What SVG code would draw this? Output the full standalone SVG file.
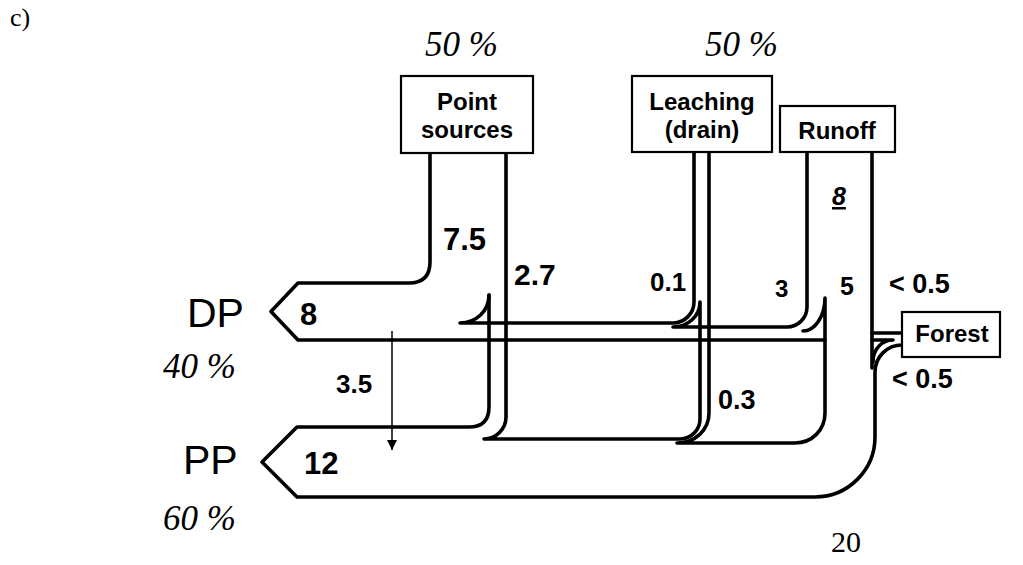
<svg xmlns="http://www.w3.org/2000/svg" width="1023" height="565" viewBox="0 0 1023 565">
<style>
.flow{fill:none;stroke:#000;stroke-width:3.6;stroke-linecap:round;stroke-linejoin:round}
.thin{fill:none;stroke:#000;stroke-width:1.5}
.box{fill:#fff;stroke:#000;stroke-width:2.2}
.bl{font-family:"Liberation Sans",Arial,sans-serif;font-weight:bold;font-size:24px;text-anchor:middle;fill:#000}
.num{font-family:"Liberation Sans",Arial,sans-serif;font-weight:bold;fill:#000}
.big{font-family:"Liberation Sans",Arial,sans-serif;font-size:41px;fill:#000}
.pct{font-family:"Liberation Serif","Times New Roman",serif;font-style:italic;font-size:35px;fill:#000}
.ser{font-family:"Liberation Serif","Times New Roman",serif;fill:#000}
</style>
<defs>
<marker id="ah" viewBox="0 0 10 10" refX="10" refY="5" markerWidth="10" markerHeight="10" markerUnits="userSpaceOnUse" orient="auto">
<path d="M0,0 L10,5 L0,10 Z" fill="#000"/>
</marker>
</defs>
<rect width="1023" height="565" fill="#fff"/>
<text class="ser" x="10" y="26" font-size="26">c)</text>
<text class="pct" x="425" y="56">50 %</text>
<text class="pct" x="705" y="56">50 %</text>
<text class="ser" x="831" y="552" font-size="30">20</text>

<g id="connectors">
<path class="flow" d="M430,153 V262 Q430,283 409,283 H298 L271,311.5 L298,340 H825"/>
<path class="flow" d="M489,295 V407 Q489,427 469,427 H297 L262,462 L297,497 H815 C848,497 875,470 875,437 V372 C875,357 887,345 902,345"/>
<path class="flow" d="M489,295 C489,311 476,323 460,323 H673 C685,323 694,313 694,302 V152"/>
<path class="flow" d="M506,153 V417 C506,429 496,439 484,439 H680 C691,439 700,430 700,419 V302 C700,316 688,327 673,327 H787 C798,327 807,318 807,307 V152"/>
<path class="flow" d="M709,152 V413 C709,430 695,443 677,443 H795 C812,443 825,430 825,413 V298 C825,316 815,331 803,331"/>
<path class="flow" d="M872,152 V368"/>
<path class="flow" d="M872,333 H902"/>
<path class="flow" d="M893,340 H872 M893,340 C882,340 873,349 873,362"/>
<line class="thin" x1="392" y1="331" x2="392" y2="450" marker-end="url(#ah)"/>
</g>

<g id="point-sources">
<rect class="box" x="401" y="76" width="132" height="77"/>
<text class="bl" x="467" y="110">Point</text>
<text class="bl" x="467" y="138">sources</text>
</g>
<g id="leaching">
<rect class="box" x="632" y="76" width="140" height="76"/>
<text class="bl" x="702" y="110">Leaching</text>
<text class="bl" x="702" y="138">(drain)</text>
</g>
<g id="runoff">
<rect class="box" x="780" y="106" width="115" height="46"/>
<text class="bl" x="837" y="139">Runoff</text>
</g>
<g id="forest">
<rect class="box" x="902" y="312" width="98" height="45"/>
<text class="bl" x="952" y="342">Forest</text>
</g>
<g id="dp">
<text class="big" x="187" y="327">DP</text>
<text class="num" x="300" y="325" font-size="31">8</text>
<text class="pct" x="163" y="378">40 %</text>
</g>
<g id="pp">
<text class="big" x="183" y="474">PP</text>
<text class="num" x="304" y="474" font-size="31">12</text>
<text class="pct" x="163" y="530">60 %</text>
</g>
<g id="labels">
<text class="num" x="443" y="250" font-size="31">7.5</text>
<text class="num" x="514" y="285" font-size="30">2.7</text>
<text class="num" x="336" y="393" font-size="26">3.5</text>
<text class="num" x="650" y="291" font-size="26">0.1</text>
<text class="num" x="775" y="297" font-size="24">3</text>
<text class="num" x="840" y="295" font-size="25">5</text>
<text class="num" x="832" y="205" font-size="25" font-style="italic" text-decoration="underline">8</text>
<text class="num" x="889" y="293" font-size="27">&lt; 0.5</text>
<text class="num" x="892" y="388" font-size="27">&lt; 0.5</text>
<text class="num" x="718" y="409" font-size="27">0.3</text>
</g>
</svg>
